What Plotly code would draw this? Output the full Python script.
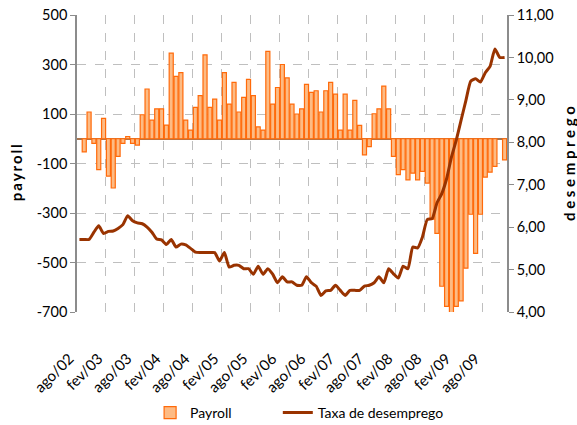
import plotly.graph_objects as go

month_abbr = ["jan", "fev", "mar", "abr", "mai", "jun", "jul", "ago", "set", "out", "nov", "dez"]
categories = []
for year in range(2002, 2010):
    for m in range(12):
        if year == 2002 and m < 7:
            continue
        categories.append(f"{month_abbr[m]}/{str(year)[2:]}")

payroll = [None, -53, 108, -19, -125, 82, -151, -199, -71, -19, 9, -19, -26, 97, 201, 75,
           121, 121, 55, 346, 252, 267, 75, 35, 127, 174, 339, 127, 160, 75, 267, 140,
           228, 108, 167, 240, 174, 48, 35, 353, 140, 207, 300, 246, 140, 100, 121, 220,
           187, 194, 108, 194, 228, 180, 35, 180, 35, 155, 54, -65, -32, 101, 121, 213,
           121, -71, -145, -125, -166, -139, -166, -132, -179, -325, -382, -596, -677, -741,
           -677, -655, -523, -305, -463, -305, -155, -135, -112, None, -85]

desemprego = [5.71, 5.71, 5.71, 5.88, 6.03, 5.85, 5.90, 5.91, 5.97, 6.06, 6.27, 6.15, 6.10,
              6.08, 6.00, 5.88, 5.72, 5.70, 5.59, 5.71, 5.53, 5.60, 5.58, 5.50, 5.41, 5.40,
              5.40, 5.40, 5.40, 5.20, 5.40, 5.06, 5.10, 5.10, 5.02, 5.02, 4.89, 5.08, 4.89,
              5.02, 4.89, 4.69, 4.83, 4.71, 4.71, 4.63, 4.63, 4.83, 4.69, 4.61, 4.39, 4.50,
              4.51, 4.63, 4.51, 4.39, 4.51, 4.51, 4.51, 4.61, 4.63, 4.69, 4.83, 4.69, 5.02,
              4.90, 4.80, 5.08, 5.02, 5.53, 5.51, 5.77, 6.18, 6.20, 6.57, 6.79, 7.14, 7.65,
              8.05, 8.52, 8.99, 9.44, 9.50, 9.42, 9.64, 9.79, 10.2, 10.0, 10.0]

left_ticks = [-700, -500, -300, -100, 100, 300, 500]
left_ticktext = ["-700", "-500", "-300", "-100", "100", "300", "500"]
right_ticks = [4, 5, 6, 7, 8, 9, 10, 11]

FONT = "Lato, Open Sans, sans-serif"

fig = go.Figure()
fig.add_trace(go.Bar(
    x=categories, y=payroll, name="Payroll",
    marker=dict(color="#FDBB84", line=dict(color="#FF6A0A", width=1.2)),
    yaxis="y", legend="legend",
))
fig.add_trace(go.Scatter(
    x=categories, y=desemprego, name="Taxa de desemprego", mode="lines",
    line=dict(color="#993300", width=3, shape="spline", smoothing=0.5),
    yaxis="y2", legend="legend2",
))

fig.update_layout(
    width=577, height=425,
    margin=dict(l=77, r=70, t=15, b=113, autoexpand=False),
    paper_bgcolor="white", plot_bgcolor="white",
    separators=",.",
    bargap=0.16,
    font=dict(family=FONT, size=14, color="#000000"),
    showlegend=True,
    legend=dict(orientation="h", x=0.17, xanchor="left", y=-0.34, yanchor="middle",
                font=dict(size=14), itemwidth=30, bgcolor="rgba(0,0,0,0)"),
    legend2=dict(orientation="h", x=0.467, xanchor="left", y=-0.34, yanchor="middle",
                 font=dict(size=14), itemwidth=30, bgcolor="rgba(0,0,0,0)"),
    xaxis=dict(
        type="category", tickmode="linear", tick0=0, dtick=6,
        tickson="boundaries", ticks="", tickangle=-45,
        showgrid=True, gridcolor="#BFBFBF", griddash="dash", gridwidth=1,
        showline=False, zeroline=False, automargin=False,
        ticklabelstandoff=34, ticklabelshift=-10,
        tickfont=dict(size=15),
        range=[-0.5, len(categories) - 0.5],
    ),
    yaxis=dict(
        range=[-700, 500], tickvals=left_ticks, ticktext=left_ticktext,
        showgrid=True, gridcolor="#BFBFBF", griddash="dash", gridwidth=1,
        showline=True, linecolor="#8C8C8C", linewidth=1.5, automargin=False,
        ticks="outside", ticklen=5, tickcolor="#8C8C8C",
        zeroline=True, zerolinecolor="#A8744E", zerolinewidth=2,
        tickfont=dict(size=14.5),
    ),
    yaxis2=dict(
        range=[4, 11], tickvals=right_ticks, tickformat=".2f",
        overlaying="y", side="right", showgrid=False, zeroline=False,
        showline=True, linecolor="#8C8C8C", linewidth=1.5, automargin=False,
        ticks="outside", ticklen=5, tickcolor="#8C8C8C",
        tickfont=dict(size=14.5),
    ),
    annotations=[
        dict(text="p\u2009a\u2009y\u2009r\u2009o\u2009l\u2009l", textangle=-90,
             xref="paper", yref="paper", x=-0.14, y=0.47, showarrow=False,
             xanchor="center", yanchor="middle",
             font=dict(size=15, weight="bold")),
        dict(text="d e s e m p r e g o", textangle=-90,
             xref="paper", yref="paper", x=1.143, y=0.5, showarrow=False,
             xanchor="center", yanchor="middle",
             font=dict(size=15, weight="bold")),
    ],
)

fig.write_html("out.html", post_script="document.body.style.margin='0';",
               config={"displayModeBar": False})
